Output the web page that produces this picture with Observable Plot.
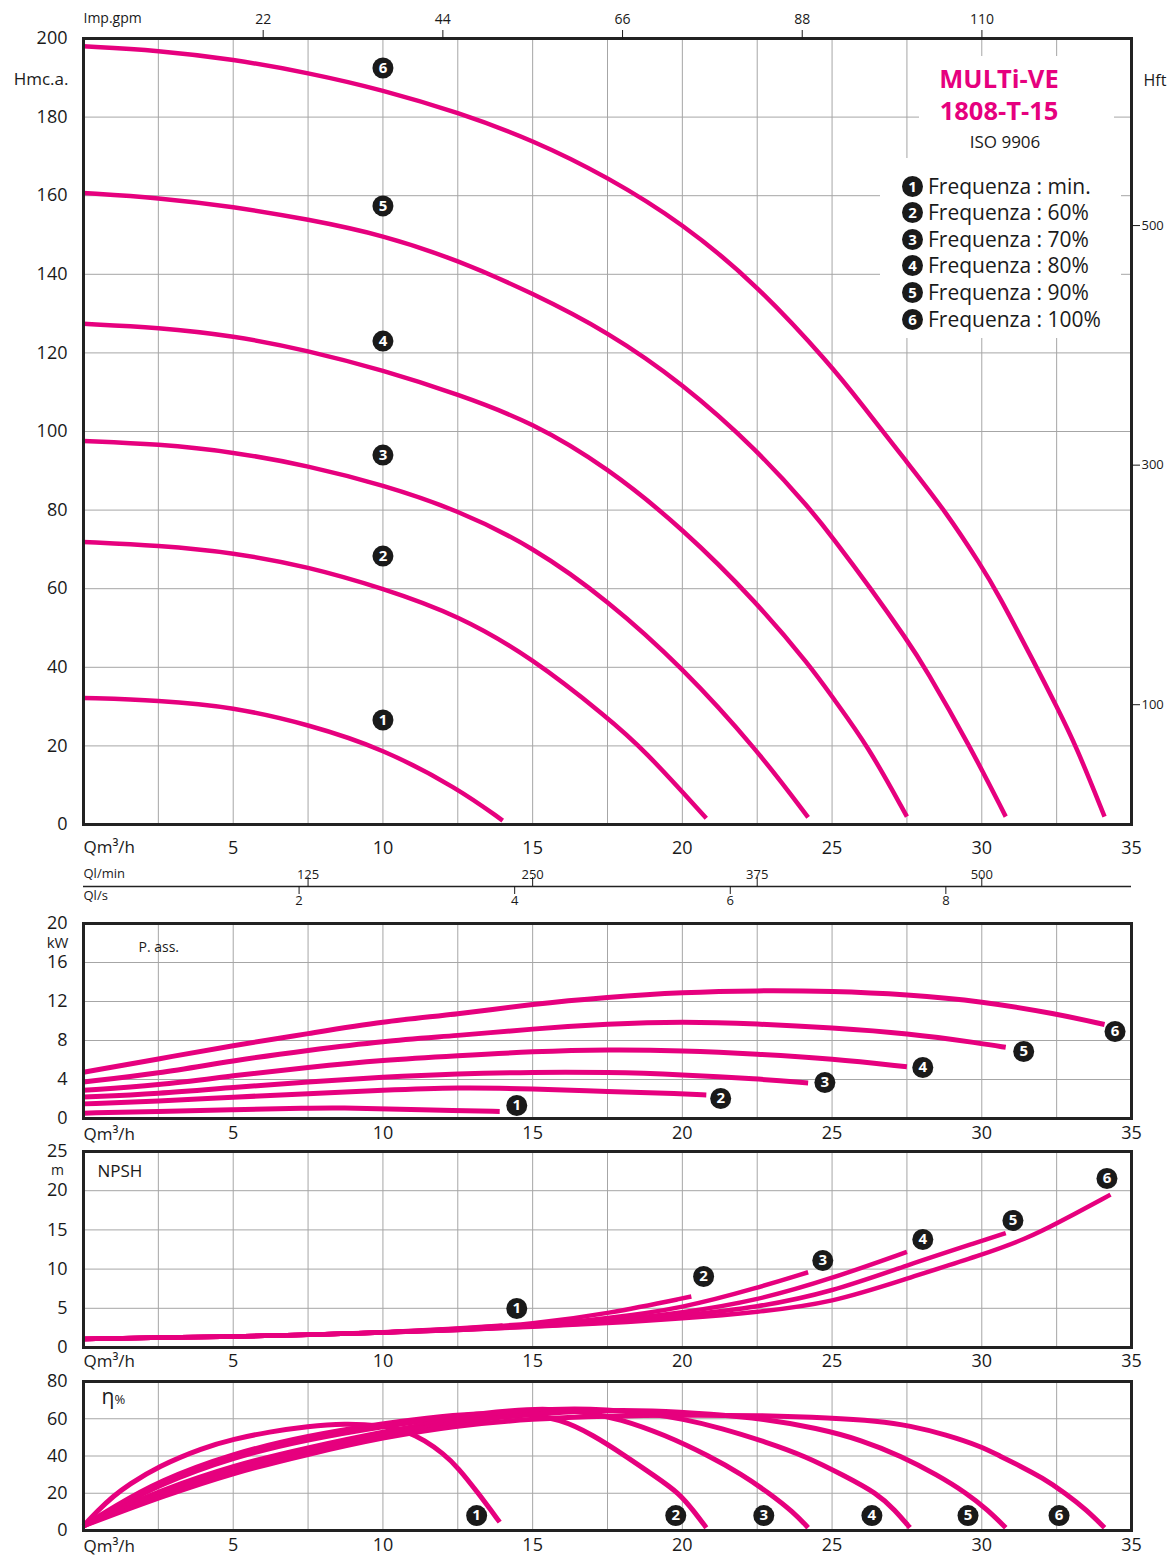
<!DOCTYPE html>
<html><head><meta charset="utf-8">
<script src="https://cdn.jsdelivr.net/npm/d3@7"></script>
<script src="https://cdn.jsdelivr.net/npm/@observablehq/plot@0.6"></script>
<style>
body{margin:0;background:#fff;font-family:"Open Sans",sans-serif;color:#1a1a1a}
#wrap{position:relative;width:1176px;height:1556px;overflow:hidden;background:#fff}
.panel{position:absolute;left:0}
.box{position:absolute;background:#fff}
.title{position:absolute;left:919px;width:160px;text-align:center;color:#e6007e;font-weight:700;font-size:25.5px;line-height:32px}
.iso{position:absolute;left:919px;width:172px;text-align:center;font-size:17px;line-height:22px;color:#1a1a1a}
.item{position:absolute;left:902px;height:26px;display:flex;align-items:center;font-size:21px;white-space:nowrap;color:#1a1a1a}
.num{display:inline-block;width:21px;height:21px;border-radius:50%;background:#1a1a1a;color:#fff;font-weight:700;font-size:15px;line-height:21px;text-align:center;margin-right:5px}
</style></head><body><div id="wrap"></div>
<script>
// ---------- data ----------
const ids = [1, 2, 3, 4, 5, 6];
const legendLabels = ["Frequenza : min.", "Frequenza : 60%", "Frequenza : 70%", "Frequenza : 80%", "Frequenza : 90%", "Frequenza : 100%"];
const modelName = ["MULTi-VE", "1808-T-15"];
const standard = "ISO 9906";

// head H (m) vs flow Q (m3/h)
const hq1 = [[0,32.2],[2.5,31.6],[5,29.9],[7.5,25.5],[10,19.3],[12.5,9.2],[14,1]];
const hq2 = [[0,71.9],[2.5,71],[5,69.2],[7.5,65.6],[10,60.1],[12.5,53.3],[15,42.3],[17.5,27.2],[18.7,19.2],[20.8,1.6]];
const hq3 = [[0,97.6],[2.5,96.8],[5,94.8],[7.5,91.3],[10,86.4],[12.5,80],[15,70.7],[17.5,57.1],[20,40],[22.5,19],[24.2,1.8]];
const hq4 = [[0,127.4],[2.5,126.5],[5,124.4],[7.5,120.6],[10,115.6],[12.5,109.5],[15,102.3],[17.5,90.8],[20,75.4],[22.5,56.4],[24.3,40],[25,32.5],[26.2,20],[27.5,2]];
const hq5 = [[0,160.7],[2.5,159.5],[5,157.2],[7.5,154],[10,150],[12.5,143.6],[15,135.2],[17.5,125.4],[20,112.3],[22.5,95.3],[24.3,80],[25,73.2],[26.3,60],[27.5,47],[28.1,40],[29.6,20],[30.8,2]];
const hq6 = [[0,198],[2.5,197],[5,194.7],[7.5,191.3],[10,186.9],[12.5,181.2],[15,174.2],[17.5,164.8],[20,153],[22.5,137.3],[25,116.5],[25.9,107.8],[27.5,92.2],[28.8,79.6],[30,65.6],[30.5,59.3],[31.8,40.5],[32.5,30],[33.15,20],[34.1,2]];
const hqLabelQ = [10, 10, 10, 10, 10, 10];
const hqLabelH = [26.6, 68.3, 94, 123, 157.4, 192.5];

// absorbed power P (kW)
const p1 = [[0,0.55],[2.5,0.72],[5,0.9],[7.5,1.08],[8.7,1.1],[10,0.98],[12.5,0.82],[13.9,0.72]];
const p2 = [[0,1.5],[2.5,1.75],[5,2.2],[7.5,2.55],[10,2.9],[12.5,3.2],[15,3.05],[17.5,2.77],[20,2.53],[20.8,2.42]];
const p3 = [[0,2.2],[2.5,2.55],[5,3.2],[7.5,3.75],[10,4.25],[12.5,4.6],[15,4.75],[17.5,4.75],[20,4.5],[22.5,4.07],[24.2,3.65]];
const p4 = [[0,2.9],[2.5,3.4],[5,4.4],[7.5,5.25],[10,6.0],[12.5,6.45],[15,6.87],[17.5,7.08],[20,6.97],[22.5,6.63],[25,6.12],[27.5,5.3]];
const p5 = [[0,3.75],[2.5,4.6],[5,5.95],[7.5,7.0],[10,7.95],[12.5,8.5],[15,9.2],[17.5,9.7],[20,9.95],[22.5,9.71],[25,9.3],[27.5,8.75],[30,7.7],[30.8,7.3]];
const p6 = [[0,4.75],[2.5,6.1],[5,7.5],[7.5,8.7],[10,9.95],[12.5,10.7],[15,11.75],[17.5,12.45],[20,12.95],[22.5,13.13],[25,13.06],[27.5,12.72],[30,12.03],[32.5,10.73],[34.1,9.64]];
const pLabelQ = [14.47, 21.28, 24.76, 28.03, 31.4, 34.45];
const pLabelV = [1.33, 2.05, 3.69, 5.23, 6.87, 8.92];

// NPSH (m)
const n1 = [[0,1.1],[5,1.4],[7.5,1.6],[10,1.9],[12.5,2.4],[14,2.8]];
const n2 = [[0,1.1],[5,1.4],[7.5,1.6],[10,1.9],[12.5,2.35],[15,3.0],[17.5,4.3],[20.3,6.5]];
const n3 = [[0,1.1],[5,1.4],[7.5,1.6],[10,1.9],[12.5,2.3],[15,2.85],[17.5,3.7],[20,5.0],[22.5,7.6],[24.2,9.6]];
const n4 = [[0,1.1],[5,1.4],[7.5,1.6],[10,1.9],[12.5,2.25],[15,2.75],[17.5,3.4],[20,4.4],[22.5,6.0],[25,8.8],[27.5,12.2]];
const n5 = [[0,1.1],[5,1.4],[7.5,1.6],[10,1.9],[12.5,2.2],[15,2.7],[17.5,3.2],[20,4.1],[22.5,5.1],[25,7.1],[27.5,10.5],[30,13.6],[30.8,14.6]];
const n6 = [[0,1.1],[5,1.4],[7.5,1.6],[10,1.9],[12.5,2.2],[15,2.65],[17.5,3.1],[20,3.7],[22.5,4.5],[25,5.7],[27.5,8.8],[30,11.8],[31.5,13.9],[32.5,15.8],[34.3,19.5]];
const nLabelQ = [14.47, 20.71, 24.69, 28.03, 31.04, 34.18];
const nLabelV = [4.97, 9.06, 11.1, 13.78, 16.2, 21.56];

// efficiency (%)
const e1 = [[0,2.5],[0.5,11],[1,18.5],[1.5,24.5],[2.5,34.5],[4,44.5],[5,49],[6.2,53],[7.5,56],[8.7,57.5],[10,56.4],[10.75,53.7],[11.4,48.3],[12,41.5],[12.5,34],[13.2,19.7],[13.9,4.5]];
const e2 = [[0,2.5],[1,12.5],[2.5,26.5],[5,41.5],[7.5,51],[10,57.5],[12,61.5],[13.5,63],[14.8,62.3],[15.9,60],[17,51.5],[18.1,40],[19.1,29],[19.9,20],[20.4,10],[20.8,1.5]];
const e3 = [[0,2.5],[1,11.5],[2.5,24.5],[5,39.5],[7.5,49],[10,56],[12.5,61.5],[14.3,64.5],[15.5,65.5],[16.8,63.5],[17.9,60],[19.4,51.5],[20.9,40],[22,30],[22.9,20],[23.7,10],[24.2,1.5]];
const e4 = [[0,2.5],[1,10.5],[2.5,21],[5,35],[7.5,44.5],[10,53],[12.5,60],[14.5,64],[16,65.5],[17.5,65],[18.8,63],[20,60],[21.3,55],[22.8,47.5],[24.1,40],[25.4,29.5],[26.5,20],[27.1,11],[27.6,1.5]];
const e5 = [[0,2.5],[1,9.5],[2.5,19],[5,33],[7.5,42.5],[10,51.5],[12.5,58.5],[15,62.5],[17,64.5],[19,64.5],[21,62.5],[22.7,60],[24.5,55],[26,48.5],[27.3,40],[28.5,30],[29.5,20],[30.2,11],[30.8,1.5]];
const e6 = [[0,2.5],[1,8.5],[2.5,17.5],[5,31],[7.5,41],[10,50],[12.5,56.5],[15,60],[17.5,61.5],[20,62],[22.5,61.8],[25,60.5],[26.5,58.8],[27.6,56.3],[28.8,51.5],[30,45],[30.6,40],[31.3,34.5],[32,28.5],[32.8,20],[33.5,11],[34.1,1.5]];
const eLabelQ = [13.13, 19.78, 22.72, 26.33, 29.54, 32.58];
const eLabelV = [8, 8, 8, 8, 8, 8];

// ticks
const qTicks = [5, 10, 15, 20, 25, 30, 35];
const qGrid = [2.5, 5, 7.5, 10, 12.5, 15, 17.5, 20, 22.5, 25, 27.5, 30, 32.5];
const hTicks = [0, 20, 40, 60, 80, 100, 120, 140, 160, 180, 200];
const gpmTicks = [22, 44, 66, 88, 110];
const ftTicks = [100, 300, 500];
const lminTicks = [125, 250, 375, 500];
const lsTicks = [2, 4, 6, 8];
const pTicks = [0, 4, 8, 12, 16, 20];
const nTicks = [0, 5, 10, 15, 20, 25];
const eTicks = [0, 20, 40, 60, 80];

// ---------- helpers ----------
const GPM = 3.66614;  // Imp.gpm per m3/h
const FT = 3.28084;   // ft per m
const MAG = "#e6007e";
const INK = "#1a1a1a";
const GRID = "#a6a6a6";
const FONT = '"Open Sans", sans-serif';
const tidy = (arrs) => arrs.flatMap((a, i) => a.map(([q, v]) => ({id: ids[i], q, v})));
const labels = (qs, vs) => ids.map((id, i) => ({id, q: qs[i], v: vs[i]}));
const note = (t, o) => Plot.text([t], {text: d => d, lineAnchor: "middle", ...o});

function base(marginTop, marginBottom, height, domain, yt, grid, extra) {
  return Plot.plot({
    width: 1176, height, marginTop, marginBottom, marginLeft: 83, marginRight: 45,
    style: {background: "transparent", fontFamily: FONT, color: INK},
    x: {domain: [0, 35], label: null},
    y: {domain, label: null},
    marks: [
      Plot.gridX(qGrid, {stroke: GRID, strokeOpacity: 1, strokeWidth: 1}),
      Plot.gridY(grid, {stroke: GRID, strokeOpacity: 1, strokeWidth: 1}),
      ...extra.under,
      Plot.frame({stroke: "#222", strokeWidth: 3}),
      Plot.axisY(yt, {tickSize: 0, tickPadding: 16, fontSize: 18, label: null}),
      Plot.axisX(qTicks, {tickSize: 0, tickPadding: extra.xpad, fontSize: 18, label: null}),
      note("Qm³/h", {frameAnchor: "bottom-left", textAnchor: "start", dy: extra.qdy, fontSize: 17}),
      ...extra.over
    ]
  });
}
function curves(data, labelData, sw) {
  return [
    Plot.line(data, {x: "q", y: "v", z: "id", stroke: MAG, strokeWidth: sw, curve: "basis", strokeLinecap: "butt"}),
    Plot.dot(labelData, {x: "q", y: "v", r: 10.5, fill: INK, stroke: "none"}),
    Plot.text(labelData, {x: "q", y: "v", text: d => String(d.id), fill: "#fff", fontWeight: "bold", fontSize: 15})
  ];
}

const wrap = document.getElementById("wrap");
function place(el, top) { el.classList.add("panel"); el.style.top = top + "px"; wrap.appendChild(el); }

// ---------- main H-Q panel ----------
const main = base(38, 34, 858, [0, 200], hTicks, hTicks.slice(1, -1), {
  xpad: 17, qdy: 23,
  under: curves(tidy([hq1, hq2, hq3, hq4, hq5, hq6]), labels(hqLabelQ, hqLabelH), 4.5),
  over: [
    Plot.axisX(gpmTicks.map(g => g / GPM), {anchor: "top", tickSize: 9, tickPadding: 6, fontSize: 14, label: null, tickFormat: d => String(Math.round(d * GPM))}),
    Plot.axisY(ftTicks.map(f => f / FT), {anchor: "right", tickSize: 8, tickPadding: 2, fontSize: 13, label: null, tickFormat: d => String(Math.round(d * FT))}),
    note("Imp.gpm", {frameAnchor: "top-left", textAnchor: "start", dy: -20, fontSize: 14}),
    note("Hmc.a.", {frameAnchor: "top-left", textAnchor: "end", dx: -15, dy: 41, fontSize: 17}),
    note("Hft", {frameAnchor: "top-right", textAnchor: "start", dx: 12, dy: 42, fontSize: 16})
  ]
});
place(main, 0);

// ---------- flow unit strip ----------
const strip = Plot.plot({
  width: 1176, height: 50, marginTop: 27, marginBottom: 22, marginLeft: 83, marginRight: 45,
  style: {background: "transparent", fontFamily: FONT, color: INK},
  x: {domain: [0, 35], label: null},
  y: {domain: [0, 1], label: null, axis: null},
  marks: [
    Plot.ruleY([0], {stroke: "#222", strokeWidth: 1.3}),
    Plot.axisX(lminTicks.map(v => v * 0.06), {anchor: "top", tickSize: 9, tickPadding: -2, fontSize: 13, label: null, tickFormat: d => String(Math.round(d / 0.06))}),
    Plot.axisX(lsTicks.map(v => v * 3.6), {anchor: "bottom", tickSize: 8, tickPadding: 1, fontSize: 13, label: null, tickFormat: d => String(Math.round(d / 3.6))}),
    note("Ql/min", {frameAnchor: "top-left", textAnchor: "start", dy: -12, fontSize: 13}),
    note("Ql/s", {frameAnchor: "bottom-left", textAnchor: "start", dy: 9, fontSize: 13})
  ]
});
place(strip, 858);

// ---------- power panel ----------
const pPanel = base(23, 32, 250, [0, 20], pTicks, [4, 8, 12, 16], {
  xpad: 8, qdy: 16,
  under: curves(tidy([p1, p2, p3, p4, p5, p6]), labels(pLabelQ, pLabelV), 5),
  over: [
    note("kW", {frameAnchor: "top-left", textAnchor: "middle", dx: -26, dy: 19.5, fontSize: 15}),
    note("P. ass.", {frameAnchor: "top-left", textAnchor: "start", dx: 55, dy: 24, fontSize: 14})
  ]
});
place(pPanel, 900);

// ---------- NPSH panel ----------
const nPanel = base(17, 32, 245, [0, 25], nTicks, [5, 10, 15, 20], {
  xpad: 7, qdy: 14,
  under: curves(tidy([n1, n2, n3, n4, n5, n6]), labels(nLabelQ, nLabelV), 4.5),
  over: [
    note("m", {frameAnchor: "top-left", textAnchor: "middle", dx: -26, dy: 19, fontSize: 14}),
    note("NPSH", {frameAnchor: "top-left", textAnchor: "start", dx: 14, dy: 20, fontSize: 17})
  ]
});
place(nPanel, 1134);

// ---------- efficiency panel ----------
const ePanel = base(17, 26, 192, [0, 80], eTicks, [20, 40, 60], {
  xpad: 8, qdy: 16,
  under: curves(tidy([e1, e2, e3, e4, e5, e6]), labels(eLabelQ, eLabelV), 5),
  over: [
    note("η", {frameAnchor: "top-left", textAnchor: "start", dx: 18, dy: 16, fontSize: 21}),
    note("%", {frameAnchor: "top-left", textAnchor: "start", dx: 31, dy: 18, fontSize: 13})
  ]
});
place(ePanel, 1364);

// ---------- title / legend block ----------
function div(cls, css, html) { const d = document.createElement("div"); d.className = cls; d.style.cssText = css; d.innerHTML = html; wrap.appendChild(d); return d; }
div("box", "left:919px;top:56px;width:195px;height:102px;", "");
div("box", "left:880px;top:158px;width:241px;height:180px;", "");
div("title", "top:62px;", modelName.join("<br>"));
div("iso", "top:131px;", standard);
const rowY = [186, 212, 239, 265, 292, 319];
legendLabels.forEach((t, i) => {
  div("item", `top:${rowY[i] - 13}px;`, `<span class="num">${ids[i]}</span>${t}`);
});
</script></body></html>
